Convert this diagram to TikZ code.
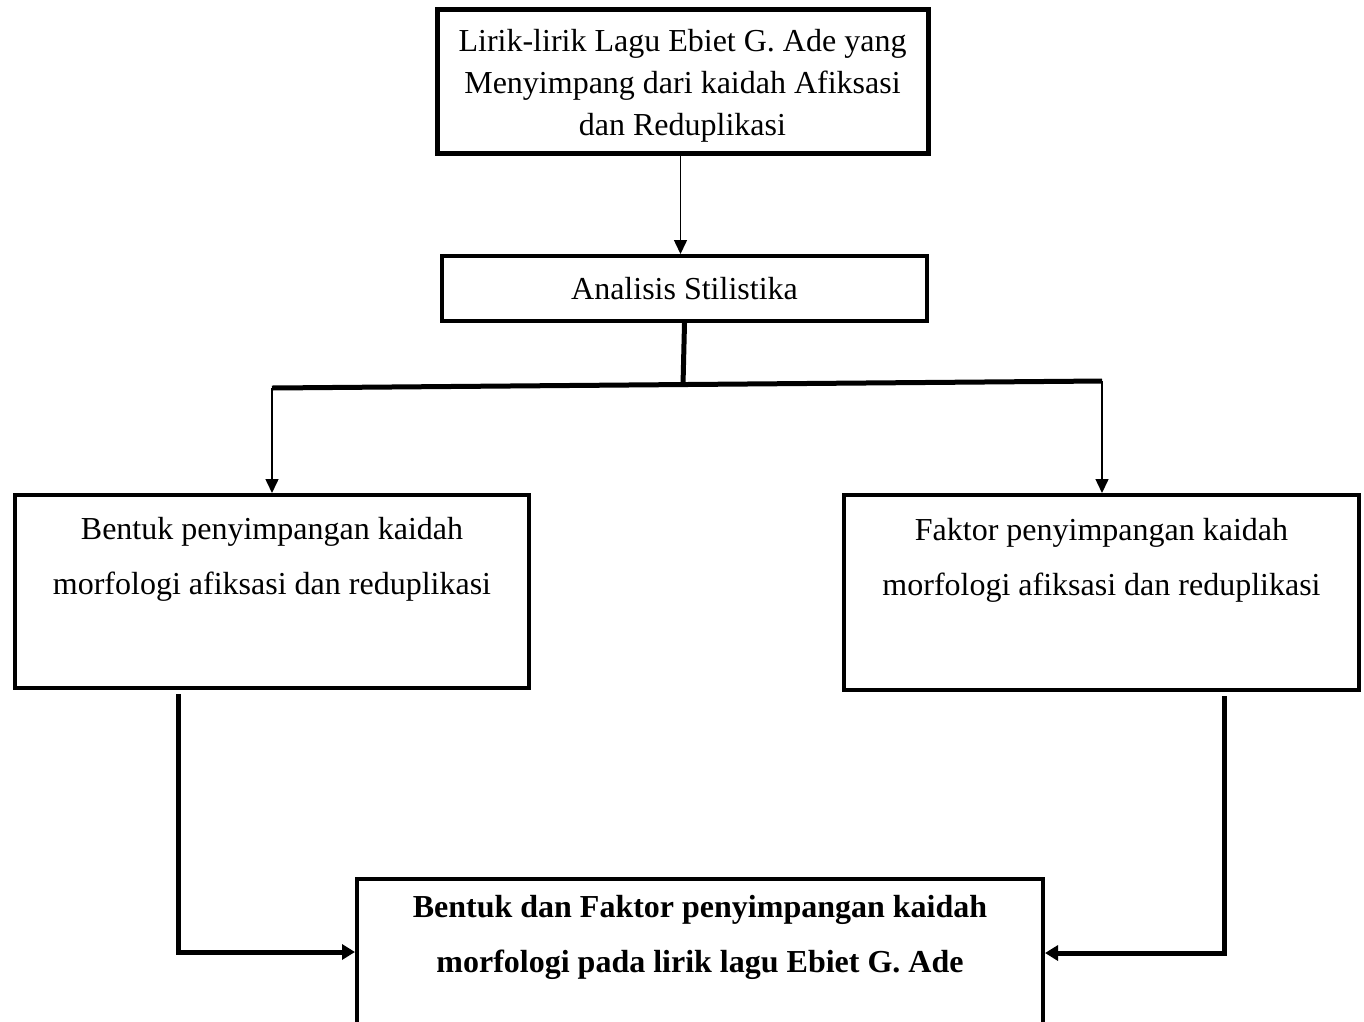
\documentclass[tikz,border=0pt]{standalone}
\usepackage{fontspec}
\setmainfont{Liberation Serif}
\usetikzlibrary{arrows.meta}

\begin{document}
\begin{tikzpicture}[x=1pt,y=-1pt,
    box/.style={draw,line width=4pt,align=center,inner sep=0pt,
        font=\fontsize{32}{42}\selectfont},
    widebox/.style={box,font=\fontsize{32}{55}\selectfont},
    flow/.style={line width=1.5pt,-{Triangle[length=14pt,width=13pt]}},
    bar/.style={line width=5pt},
    feed/.style={line width=5pt,-{Triangle[length=13pt,width=15pt]}}]
    \useasboundingbox (0,0) rectangle (1364,1021);
    % boxes
    \node[box,line width=5pt,minimum width=491pt,minimum height=144pt] (lirik) at (682.5,81)
        {\rule{0pt}{32pt}Lirik-lirik Lagu Ebiet G. Ade yang\\Menyimpang dari kaidah Afiksasi\\dan Reduplikasi};
    \node[box,minimum width=485pt,minimum height=65pt] (analisis) at (684.5,288.5)
        {Analisis Stilistika};
    \node[widebox,minimum width=514pt,minimum height=193pt] (bentuk) at (272,591.5)
        {Bentuk penyimpangan kaidah\\morfologi afiksasi dan reduplikasi\\\strut};
    \node[widebox,minimum width=515pt,minimum height=195pt] (faktor) at (1101.5,592.5)
        {Faktor penyimpangan kaidah\\morfologi afiksasi dan reduplikasi\\\strut};
    \node[widebox,minimum width=686pt,minimum height=183pt,font=\bfseries\fontsize{32}{55}\selectfont] (hasil) at (700,970)
        {Bentuk dan Faktor penyimpangan kaidah\\morfologi pada lirik lagu Ebiet G. Ade\\\strut};
    % connectors
    \coordinate (split) at (683,385);
    \coordinate (barL) at (272,388);
    \coordinate (barR) at (1102,381);
    \draw[flow] ([xshift=-2pt]lirik.south) -- ([xshift=-2pt]lirik.south |- analisis.north);
    \draw[bar] (analisis.south) -- (split);
    \draw[bar] (barL) -- (barR);
    \draw[flow] (barL) -- (bentuk.north);
    \draw[flow] (barR) -- (barR |- faktor.north);
    \draw[feed] ([xshift=-94pt,yshift=-4pt]bentuk.south) |- ([yshift=18pt]hasil.west);
    \draw[feed] ([xshift=123pt,yshift=-4pt]faktor.south) |- ([yshift=17pt]hasil.east);
\end{tikzpicture}
\end{document}
